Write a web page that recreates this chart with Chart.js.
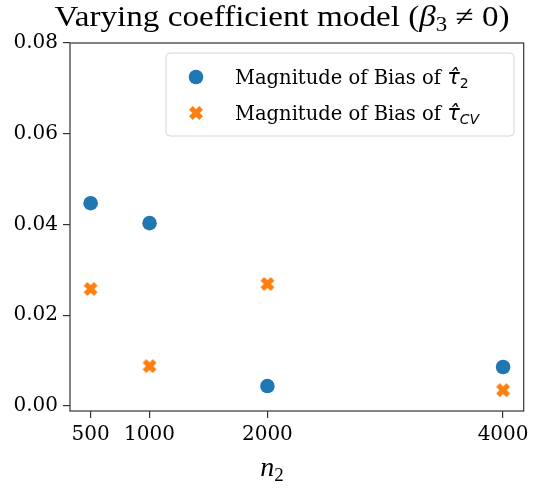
<!DOCTYPE html>
<html><head><meta charset="utf-8">
<script src="https://cdn.jsdelivr.net/npm/chart.js@4"></script>
<style>html,body{margin:0;padding:0;background:#fff}</style>
</head><body>
<canvas id="c" width="534" height="490" style="width:534px;height:490px;display:block"></canvas>
<script>
const n2 = [500, 1000, 2000, 4000];
const biasTau2 = [0.0447, 0.0403, 0.0044, 0.0086];
const biasTauCV = [0.0258, 0.0088, 0.0269, 0.0035];
const xTicks = [500, 1000, 2000, 4000];
const yTicks = [0, 0.02, 0.04, 0.06, 0.08];
const blue = '#1f77b4', orange = '#ff7f0e';

function drawXMarker(ctx, cx, cy, r, w) {
  const pts = [[-w,-r],[w,-r],[w,-w],[r,-w],[r,w],[w,w],[w,r],[-w,r],[-w,w],[-r,w],[-r,-w],[-w,-w]];
  const c = Math.SQRT1_2;
  ctx.beginPath();
  pts.forEach((p, i) => {
    const x = cx + (p[0] - p[1]) * c, y = cy + (p[0] + p[1]) * c;
    if (i === 0) ctx.moveTo(x, y); else ctx.lineTo(x, y);
  });
  ctx.closePath();
  ctx.fill();
}
const xImg = document.createElement('canvas');
xImg.width = 20; xImg.height = 20;
{ const g = xImg.getContext('2d'); g.fillStyle = orange; drawXMarker(g, 10, 10, 7.2, 2.6); }

function measureRich(ctx, parts) {
  let total = 0;
  parts.forEach(p => { ctx.font = p.font; p.w = ctx.measureText(p.t).width; total += p.w; });
  return total;
}
function drawRich(ctx, parts, x, y, align) {
  const total = measureRich(ctx, parts);
  let cx = align === 'center' ? x - total / 2 : x;
  ctx.textAlign = 'left'; ctx.textBaseline = 'alphabetic';
  parts.forEach(p => { ctx.font = p.font; ctx.fillText(p.t, cx, y + (p.dy || 0)); cx += p.w; });
}

const deco = {
  id: 'deco',
  afterDraw(chart) {
    const ctx = chart.ctx, a = chart.chartArea;
    ctx.save();
    ctx.strokeStyle = '#333'; ctx.lineWidth = 1.2;
    ctx.strokeRect(a.left, a.top, a.right - a.left, a.bottom - a.top);
    ctx.fillStyle = '#000';
    // title
    const tp = [
      {t: 'Varying coefficient model (', font: '29px "Liberation Serif"'},
      {t: 'β', font: 'italic 29px "Liberation Serif"'},
      {t: '3', font: '20px "Liberation Serif"', dy: 5},
      {t: ' ≠ 0)', font: '29px "Liberation Serif"'}
    ];
    const tw = measureRich(ctx, tp);
    const sx = 455 / tw;
    ctx.save();
    ctx.translate(282, 0);
    ctx.scale(sx, 1);
    drawRich(ctx, tp, 0, 26, 'center');
    ctx.restore();
    // x label
    drawRich(ctx, [
      {t: 'n', font: 'italic 28px "Liberation Serif"'},
      {t: '2', font: '19px "Liberation Serif"', dy: 5}
    ], 272, 476, 'center');
    // legend
    const lx = 166, ly = 53, lw = 348, lh = 83, rr = 4;
    ctx.beginPath();
    ctx.moveTo(lx + rr, ly); ctx.lineTo(lx + lw - rr, ly); ctx.quadraticCurveTo(lx + lw, ly, lx + lw, ly + rr);
    ctx.lineTo(lx + lw, ly + lh - rr); ctx.quadraticCurveTo(lx + lw, ly + lh, lx + lw - rr, ly + lh);
    ctx.lineTo(lx + rr, ly + lh); ctx.quadraticCurveTo(lx, ly + lh, lx, ly + lh - rr);
    ctx.lineTo(lx, ly + rr); ctx.quadraticCurveTo(lx, ly, lx + rr, ly); ctx.closePath();
    ctx.fillStyle = 'rgba(255,255,255,0.8)'; ctx.fill();
    ctx.strokeStyle = '#d6d6d6'; ctx.lineWidth = 1; ctx.stroke();
    ctx.fillStyle = blue;
    ctx.beginPath(); ctx.arc(196, 77, 7.3, 0, Math.PI * 2); ctx.fill();
    ctx.fillStyle = orange; drawXMarker(ctx, 196, 113, 7.2, 2.6);
    ctx.fillStyle = '#000';
    drawRich(ctx, [
      {t: 'Magnitude of Bias of ', font: '19.5px "DejaVu Serif"'},
      {t: 'τ̂', font: 'italic 21px "DejaVu Sans"'},
      {t: '2', font: '14px "DejaVu Sans"', dy: 4}
    ], 235, 84, 'left');
    drawRich(ctx, [
      {t: 'Magnitude of Bias of ', font: '19.5px "DejaVu Serif"'},
      {t: 'τ̂', font: 'italic 21px "DejaVu Sans"'},
      {t: 'CV', font: 'italic 14px "DejaVu Sans"', dy: 4}
    ], 235, 120, 'left');
    ctx.restore();
  }
};

new Chart(document.getElementById('c'), {
  type: 'scatter',
  data: {
    datasets: [
      {label: 'tau2', data: n2.map((x, i) => ({x, y: biasTau2[i]})), pointStyle: 'circle', pointRadius: 7.3, pointHoverRadius: 7.3, backgroundColor: blue, borderWidth: 0},
      {label: 'tauCV', data: n2.map((x, i) => ({x, y: biasTauCV[i]})), pointStyle: xImg, pointRadius: 10, backgroundColor: orange, borderWidth: 0}
    ]
  },
  options: {
    responsive: false, animation: false, devicePixelRatio: 1,
    layout: {padding: {top: 43, right: 9, left: 0, bottom: 0}},
    plugins: {legend: {display: false}, tooltip: {enabled: false}, title: {display: false}},
    scales: {
      x: {
        type: 'linear', min: 325, max: 4175,
        afterFit: s => { s.height = 79; },
        afterBuildTicks: s => { s.ticks = xTicks.map(v => ({value: v})); },
        grid: {drawOnChartArea: false, drawTicks: true, tickLength: 7, color: '#333', lineWidth: 1.2},
        border: {display: false},
        ticks: {font: {family: 'DejaVu Serif', size: 20}, color: '#000', padding: 5, maxRotation: 0, autoSkip: false, callback: v => String(v)}
      },
      y: {
        type: 'linear', min: -0.0011, max: 0.08,
        afterFit: s => { s.width = 70; },
        afterBuildTicks: s => { s.ticks = yTicks.map(v => ({value: v})); },
        grid: {drawOnChartArea: false, drawTicks: true, tickLength: 7, color: '#333', lineWidth: 1.2},
        border: {display: false},
        ticks: {font: {family: 'DejaVu Serif', size: 20}, color: '#000', padding: 5, autoSkip: false, callback: v => v.toFixed(2)}
      }
    }
  },
  plugins: [deco]
});
</script>
</body></html>
